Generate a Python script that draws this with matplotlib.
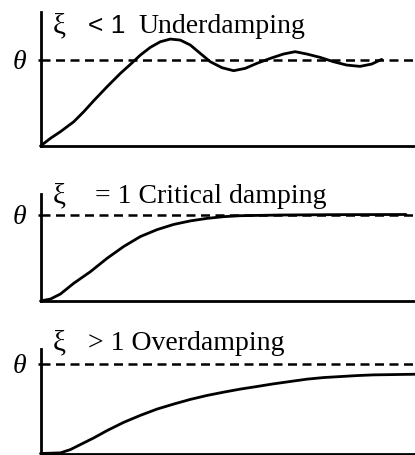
import matplotlib.pyplot as plt

# response curves (time 0..10, response in units of theta)
t_under = [0, 0.267, 0.533, 0.889, 1.156, 1.422, 1.778, 2.133, 2.4, 2.667, 2.933, 3.2, 3.467,
           3.733, 4.0, 4.267, 4.533, 4.844, 5.156, 5.467, 5.778, 6.133, 6.489, 6.8, 7.111,
           7.467, 7.822, 8.178, 8.533, 8.844, 9.111]
v_under = [0, 0.089, 0.166, 0.281, 0.397, 0.524, 0.686, 0.84, 0.944, 1.052, 1.141, 1.206, 1.237,
           1.225, 1.168, 1.071, 0.975, 0.906, 0.871, 0.898, 0.956, 1.013, 1.064, 1.091, 1.064,
           1.025, 0.975, 0.936, 0.921, 0.948, 1.002]

t_crit = [0, 0.267, 0.533, 0.888, 1.333, 1.779, 2.221, 2.667, 3.112, 3.555, 4.0, 4.445,
          4.888, 5.333, 6.4, 7.733, 9.76]
v_crit = [0, 0.023, 0.081, 0.205, 0.339, 0.494, 0.63, 0.745, 0.825, 0.885, 0.926, 0.955,
          0.975, 0.986, 0.994, 0.998, 1.0]

t_over = [0, 0.533, 0.8, 1.067, 1.422, 1.778, 2.222, 2.667, 3.111, 3.556, 4.0, 4.444, 4.889,
          5.333, 5.778, 6.222, 6.667, 7.111, 7.556, 8.0, 8.444, 8.889, 10.0]
v_over = [0, 0.007, 0.044, 0.1, 0.174, 0.256, 0.348, 0.426, 0.496, 0.552, 0.604, 0.648, 0.685,
          0.719, 0.748, 0.778, 0.804, 0.83, 0.848, 0.859, 0.87, 0.878, 0.885]

labels_sym = ['< 1', '= 1', '> 1']
labels_txt = ['Underdamping', 'Critical damping', 'Overdamping']

W, H = 415, 455
fig = plt.figure(figsize=(W / 100, H / 100), dpi=100)

# pixel boxes for each panel: (bottom, top, ylim top)
panels = [
    (146, 12, 1.55, t_under, v_under),
    (301, 194, 1.237, t_crit, v_crit),
    (453.5, 349, 1.167, t_over, v_over),
]
title_base = [33, 203, 350]

for i, (bot, top, ytop, t, v) in enumerate(panels):
    ax = fig.add_axes([40.5 / W, 1 - bot / H, (W - 40.5) / W, (bot - top) / H])
    ax.plot(t, v, color='black', lw=2.0, clip_on=False,
            solid_capstyle='round', solid_joinstyle='round')
    ax.axhline(1.0, color='black', lw=1.8, linestyle=(0, (3.6, 2.2)))
    ax.set_xlim(0, 10)
    ax.set_ylim(0, ytop)
    for s in ['top', 'right']:
        ax.spines[s].set_visible(False)
    for s in ['left', 'bottom']:
        ax.spines[s].set_linewidth(2.0)
    ax.set_xticks([])
    ax.set_yticks([1.0])
    ax.set_yticklabels([])
    ax.tick_params(axis='y', length=2.5, width=1.8)

    # theta label left of the axis
    theta_y = bot - (bot - top) / ytop + 2.5
    fig.text(19 / W, 1 - theta_y / H, 'θ', fontsize=20, family='Liberation Serif',
             style='italic', ha='center', va='center')

    yb = 1 - title_base[i] / H
    fig.text(53 / W, yb, 'ξ', fontsize=21, family='Liberation Serif', va='baseline')
    if i == 0:
        fig.text(88 / W, yb, labels_sym[i], fontsize=19, family='Liberation Sans', va='baseline')
        fig.text(138 / W, yb, labels_txt[i], fontsize=20, family='Liberation Serif', va='baseline')
    else:
        x0 = 95 if i == 1 else 88
        fig.text(x0 / W, yb, labels_sym[i] + ' ' + labels_txt[i], fontsize=20,
                 family='Liberation Serif', va='baseline')

fig.savefig('out.png', dpi=100)
